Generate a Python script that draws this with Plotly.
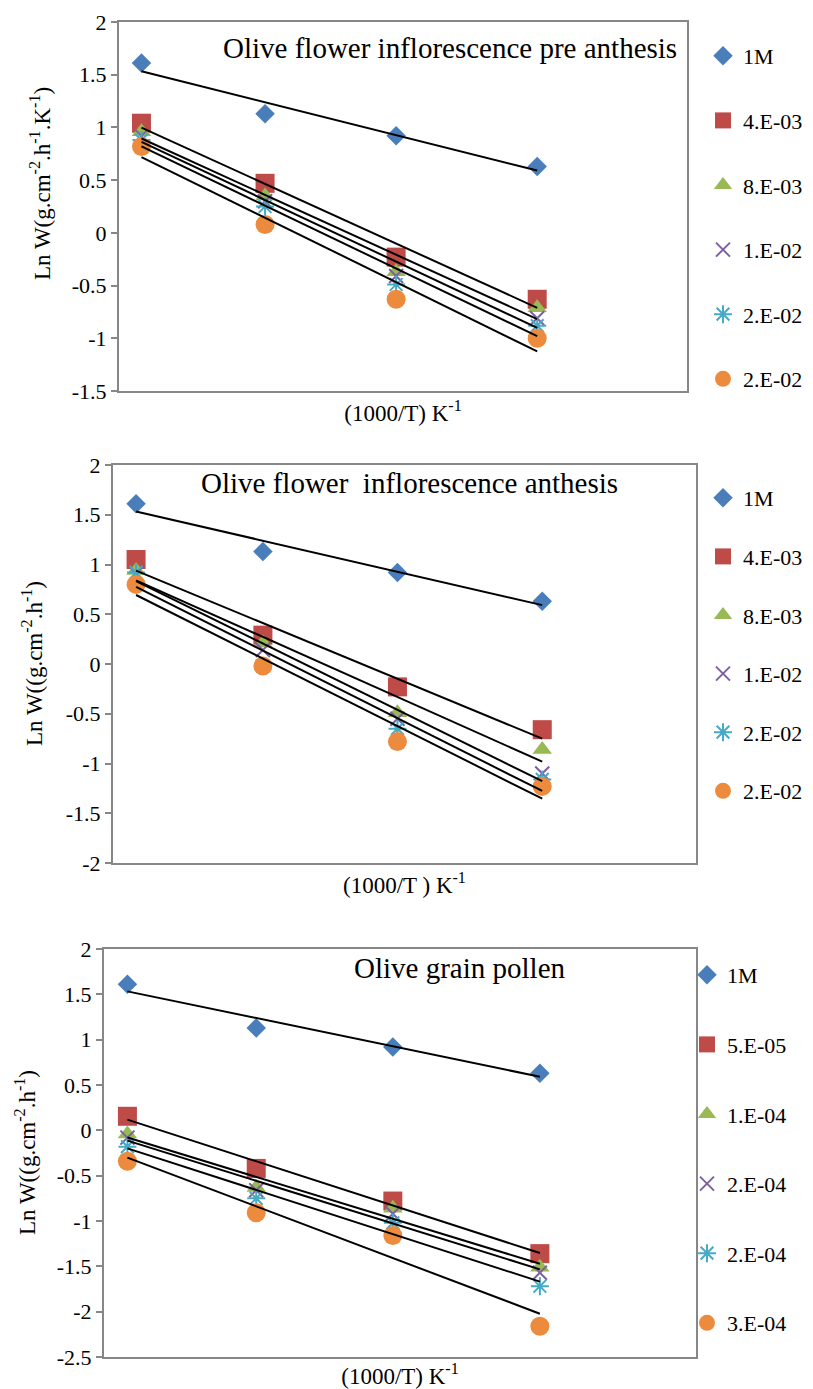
import numpy as np
import plotly.graph_objects as go

# ---------------- data ----------------
inv_T = [3.096, 3.195, 3.300, 3.413]   # 1000/T (K^-1), axis unlabeled in source

# Panel 1: Olive flower inflorescence pre anthesis
pre_labels = ["1M", "4.E-03", "8.E-03", "1.E-02", "2.E-02", "2.E-02"]
pre_1M   = [1.61, 1.13, 0.92, 0.63]
pre_4e3  = [1.04, 0.47, -0.23, -0.63]
pre_8e3  = [0.96, 0.35, -0.37, -0.71]
pre_1e2  = [0.92, 0.30, -0.41, -0.81]
pre_2e2a = [0.88, 0.25, -0.49, -0.88]
pre_2e2b = [0.82, 0.08, -0.63, -1.00]

# Panel 2: Olive flower inflorescence anthesis
ant_labels = ["1M", "4.E-03", "8.E-03", "1.E-02", "2.E-02", "2.E-02"]
ant_1M   = [1.61, 1.13, 0.92, 0.63]
ant_4e3  = [1.05, 0.29, -0.23, -0.66]
ant_8e3  = [0.94, 0.21, -0.49, -0.86]
ant_1e2  = [0.91, 0.14, -0.55, -1.10]
ant_2e2a = [0.92, -0.02, -0.65, -1.16]
ant_2e2b = [0.80, -0.02, -0.78, -1.23]

# Panel 3: Olive grain pollen
pol_labels = ["1M", "5.E-05", "1.E-04", "2.E-04", "2.E-04", "3.E-04"]
pol_1M   = [1.61, 1.13, 0.92, 0.63]
pol_5e5  = [0.155, -0.42, -0.78, -1.36]
pol_1e4  = [-0.04, -0.63, -0.86, -1.51]
pol_2e4a = [-0.08, -0.66, -0.92, -1.57]
pol_2e4b = [-0.18, -0.75, -1.02, -1.72]
pol_3e4  = [-0.34, -0.91, -1.16, -2.16]

titles = ["Olive flower inflorescence pre anthesis",
          "Olive flower \u00a0inflorescence anthesis",
          "Olive grain pollen"]
ytitles = ["Ln W(g.cm<sup>-2</sup>.h<sup>-1</sup>.K<sup>-1</sup>)",
           "Ln W((g.cm<sup>-2</sup>.h<sup>-1</sup>)",
           "Ln W((g.cm<sup>-2</sup>.h<sup>-1</sup>)"]
xtitles = ["(1000/T) K<sup>-1</sup>", "(1000/T ) K<sup>-1</sup>", "(1000/T) K<sup>-1</sup>"]

p1_ticks = [2, 1.5, 1, 0.5, 0, -0.5, -1, -1.5]
p1_text = ["2", "1.5", "1", "0.5", "0", "-0.5", "-1", "-1.5"]
p2_ticks = [2, 1.5, 1, 0.5, 0, -0.5, -1, -1.5, -2]
p2_text = ["2", "1.5", "1", "0.5", "0", "-0.5", "-1", "-1.5", "-2"]
p3_ticks = [2, 1.5, 1, 0.5, 0, -0.5, -1, -1.5, -2, -2.5]
p3_text = ["2", "1.5", "1", "0.5", "0", "-0.5", "-1", "-1.5", "-2", "-2.5"]

# ---------------- style ----------------
OFF = 8                      # default page body margin
W, H = 813 - OFF, 1389 - OFF
FONT = "Liberation Serif"
GRAY = "#878787"
colors = ["#4A7EBB", "#BE4B48", "#98B954", "#7D60A0", "#46AAC5", "#EC8B3D"]
symbols = ["diamond", "square", "triangle-up", "x-thin-open", "asterisk-open", "circle"]
sizes = [15, 19, 17, 14, 15, 19]


def fx(px):
    return (px - OFF) / W


def fy(py):
    return 1 - (py - OFF) / H


panels = [
    dict(series=[pre_1M, pre_4e3, pre_8e3, pre_1e2, pre_2e2a, pre_2e2b], labels=pre_labels,
         xa="x", ya="y", lg="legend", px=(119, 687), py=(22, 391), yr=[-1.5, 2],
         tv=p1_ticks, tt=p1_text, title_xy=(450, 48), leg=(703, 35), gap=33,
         ytl=(40, 184)),
    dict(series=[ant_1M, ant_4e3, ant_8e3, ant_1e2, ant_2e2a, ant_2e2b], labels=ant_labels,
         xa="x2", ya="y2", lg="legend2", px=(113, 696), py=(465, 863), yr=[-2, 2],
         tv=p2_ticks, tt=p2_text, title_xy=(409, 483), leg=(703, 477), gap=27,
         ytl=(32, 664)),
    dict(series=[pol_1M, pol_5e5, pol_1e4, pol_2e4a, pol_2e4b, pol_3e4], labels=pol_labels,
         xa="x3", ya="y3", lg="legend3", px=(104, 696), py=(949, 1357), yr=[-2.5, 2],
         tv=p3_ticks, tt=p3_text, title_xy=(460, 968), leg=(687, 954), gap=38,
         ytl=(25, 1153)),
]

fig = go.Figure()
layout = dict(width=W, height=H, margin=dict(l=0, r=0, t=0, b=0, autoexpand=False),
              paper_bgcolor="white", plot_bgcolor="white",
              font=dict(family=FONT, color="black", size=22),
              showlegend=True, annotations=[])

for k, p in enumerate(panels):
    for j, (ys, lab) in enumerate(zip(p["series"], p["labels"])):
        open_sym = symbols[j].endswith("open")
        fig.add_trace(go.Scatter(
            x=inv_T, y=ys, mode="markers", name=lab,
            marker=dict(symbol=symbols[j], size=sizes[j], color=colors[j],
                        line=dict(color=colors[j], width=2 if open_sym else 0)),
            xaxis=p["xa"], yaxis=p["ya"], legend=p["lg"],
            legendgroup=f"{p['lg']}_{j}"))
    for ys in p["series"]:
        slope, icpt = np.polyfit(inv_T, ys, 1)
        xs = [inv_T[0], inv_T[-1]]
        fig.add_trace(go.Scatter(
            x=xs, y=[slope * v + icpt for v in xs], mode="lines",
            line=dict(color="black", width=2), showlegend=False, hoverinfo="skip",
            xaxis=p["xa"], yaxis=p["ya"]))

    xname = "xaxis" if k == 0 else f"xaxis{k+1}"
    yname = "yaxis" if k == 0 else f"yaxis{k+1}"
    layout[xname] = dict(domain=[fx(p["px"][0]), fx(p["px"][1])], range=[3.078, 3.533],
                         anchor=p["ya"], showgrid=False, zeroline=False,
                         showticklabels=False, ticks="",
                         showline=True, mirror=True, linecolor=GRAY, linewidth=2,
                         title=dict(text=xtitles[k], font=dict(size=23, family=FONT),
                                    standoff=13))
    layout[yname] = dict(domain=[fy(p["py"][1]), fy(p["py"][0])], range=p["yr"],
                         anchor=p["xa"], showgrid=False, zeroline=False,
                         tickvals=p["tv"], ticktext=p["tt"], ticks="outside",
                         ticklen=6, tickwidth=1.5, tickcolor=GRAY,
                         tickfont=dict(size=22, family=FONT, color="black"),
                         showline=True, mirror=True, linecolor=GRAY, linewidth=2)
    layout[p["lg"]] = dict(x=fx(p["leg"][0]), y=fy(p["leg"][1]), xanchor="left",
                           yanchor="top", font=dict(size=22, family=FONT, color="black"),
                           traceorder="grouped", tracegroupgap=p["gap"],
                           itemwidth=30, bgcolor="rgba(0,0,0,0)", borderwidth=0)
    # panel title inside the plot box
    layout["annotations"].append(dict(
        text=titles[k], x=fx(p["title_xy"][0]), y=fy(p["title_xy"][1]),
        xref="paper", yref="paper", xanchor="center", yanchor="middle",
        showarrow=False, font=dict(size=29, family=FONT)))
    # y-axis title
    layout["annotations"].append(dict(
        text=ytitles[k], x=fx(p["ytl"][0]), y=fy(p["ytl"][1]), textangle=-90,
        xref="paper", yref="paper", xanchor="center", yanchor="middle",
        showarrow=False, font=dict(size=23, family=FONT)))

fig.update_layout(**layout)
fig.write_html("out.html")
